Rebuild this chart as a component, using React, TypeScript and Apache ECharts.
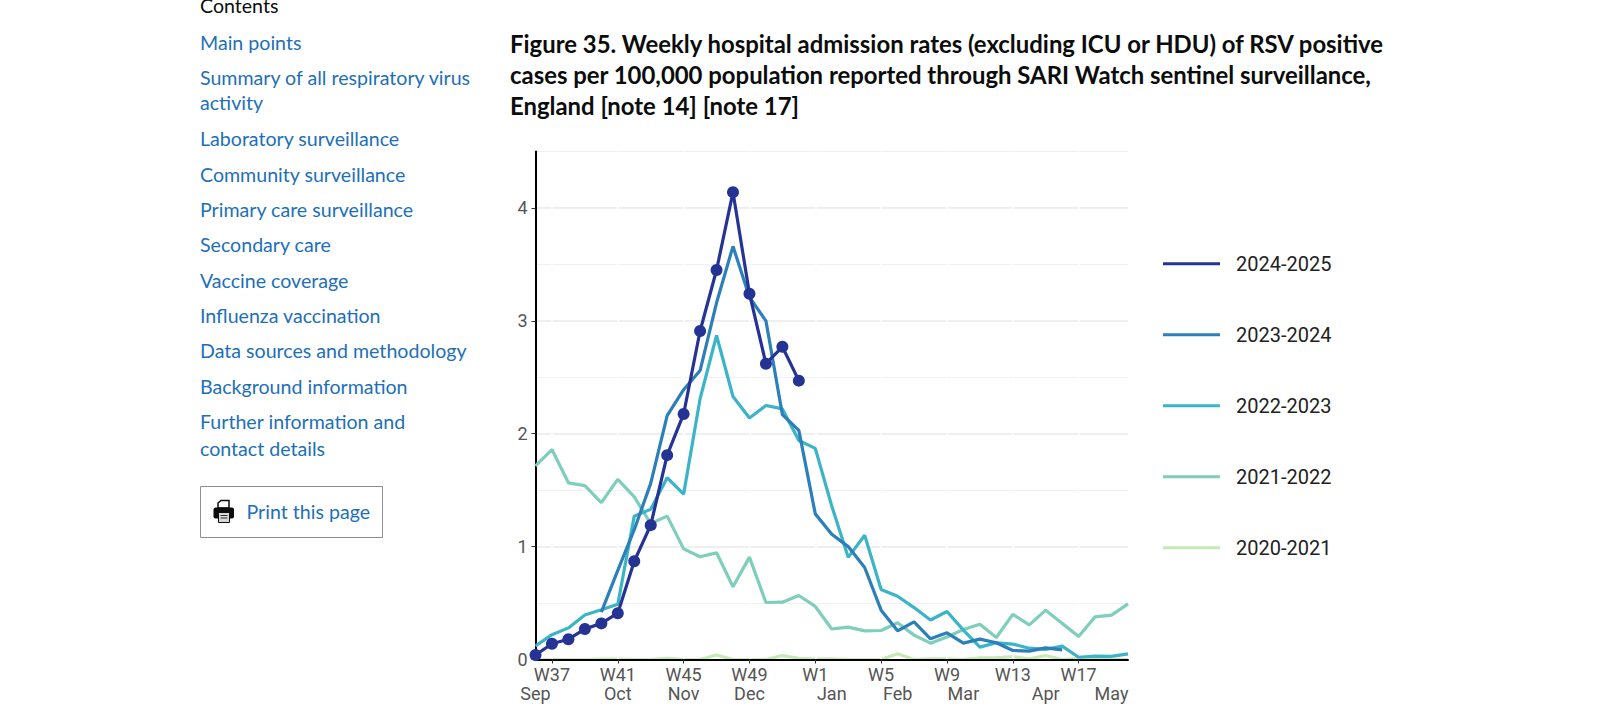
import React, { useEffect, useRef } from "react";
import * as echarts from "echarts";

const weeks = ["W36","W37","W38","W39","W40","W41","W42","W43","W44","W45","W46","W47","W48","W49","W50","W51","W52","W1","W2","W3","W4","W5","W6","W7","W8","W9","W10","W11","W12","W13","W14","W15","W16","W17","W18","W19","W20"];
const months = ["Sep","","","","","Oct","","","","Nov","","","","Dec","","","","","Jan","","","","Feb","","","","Mar","","","","","Apr","","","","May",""];
const v2425 = [0.04,0.14,0.18,0.27,0.32,0.41,0.87,1.19,1.81,2.175,2.91,3.45,4.14,3.24,2.62,2.77,2.47];
const v2324 = [null,null,null,null,0.42,0.79,1.15,1.56,2.16,2.39,2.56,3.16,3.66,3.21,3.0,2.17,2.03,1.29,1.11,1.0,0.815,0.437,0.254,0.334,0.183,0.236,0.145,0.18,0.148,0.08,0.074,0.103,0.086];
const v2223 = [0.12,0.22,0.28,0.395,0.44,0.49,1.27,1.33,1.61,1.465,2.31,2.87,2.33,2.14,2.25,2.22,1.94,1.87,1.36,0.905,1.10,0.62,0.56,0.46,0.35,0.425,0.26,0.11,0.148,0.136,0.10,0.09,0.118,0.02,0.03,0.027,0.05];
const v2122 = [1.715,1.86,1.565,1.54,1.39,1.595,1.44,1.205,1.27,0.98,0.91,0.945,0.645,0.907,0.505,0.508,0.567,0.47,0.27,0.287,0.254,0.257,0.325,0.216,0.145,0.2,0.266,0.313,0.195,0.40,0.307,0.437,0.32,0.204,0.378,0.393,0.493];
const v2021 = [0,0,0,0,0.003,0.003,0,0,0.01,0,0,0.04,0,0,0,0.035,0.01,0.003,0.005,0,0,0,0.05,0,0.005,0.005,0,0.015,0.015,0.025,0.005,0.035,0,0.01,0,0,0];
const yTicks = [0,1,2,3,4];
const seasons = ["2024-2025","2023-2024","2022-2023","2021-2022","2020-2021"];
const colors = ["#253494","#2c7fb8","#3cb4c8","#7fcdbb","#c7e9b4"];
const titleLines = [
  "Figure 35. Weekly hospital admission rates (excluding ICU or HDU) of RSV positive",
  "cases per 100,000 population reported through SARI Watch sentinel surveillance,",
  "England [note 14] [note 17]",
];
const navLabels = ["Main points","Summary of all respiratory virus","activity","Laboratory surveillance","Community surveillance","Primary care surveillance","Secondary care","Vaccine coverage","Influenza vaccination","Data sources and methodology","Background information","Further information and","contact details"];
const navY = [42,77,102.5,138.3,174,209.5,244.5,280,315.3,350.5,386.5,421,448];

const SANS = "Lato, sans-serif";

export default function App() {
  const ref = useRef<HTMLDivElement>(null);
  useEffect(() => {
    const chart = echarts.init(ref.current!, null, { renderer: "svg" });
    const seriesValues = [v2425, v2324, v2223, v2122, v2021];
    const showWeek = (i: number) => i % 4 === 1;
    chart.setOption({
      animation: false,
      backgroundColor: "#fff",
      title: {
        text: titleLines.join("\n"),
        left: 510,
        top: 27.5,
        padding: 0,
        textStyle: { fontFamily: SANS, fontWeight: 700, fontSize: 23.9, lineHeight: 31, color: "#0b0c0c" },
      },
      grid: { left: 535.5, right: 472, top: 151.5, bottom: 60.5, containLabel: false },
      legend: {
        data: seasons,
        orient: "vertical",
        left: 1163,
        top: 253.7,
        padding: 0,
        itemWidth: 57,
        itemHeight: 3,
        itemGap: 51,
        icon: "rect",
        selectedMode: false,
        textStyle: { fontFamily: "Roboto", fontSize: 20, lineHeight: 20, color: "#222", padding: [0, 0, 0, 11] },
      },
      xAxis: [
        {
          type: "category",
          data: weeks,
          boundaryGap: false,
          z: 1,
          axisLine: { lineStyle: { color: "#000", width: 2 } },
          axisTick: { show: true, length: 4, interval: (i: number) => showWeek(i), lineStyle: { color: "#333", width: 1 } },
          axisLabel: { interval: (i: number) => showWeek(i), fontFamily: "Roboto", fontSize: 18, color: "#555", margin: 6 },
          splitLine: { show: true, interval: (i: number) => showWeek(i), lineStyle: { color: "#fff", width: 1.5 } },
        },
        {
          type: "category",
          data: months,
          boundaryGap: false,
          position: "bottom",
          offset: 19,
          axisLine: { show: false },
          axisTick: { show: false },
          axisLabel: { interval: 0, fontFamily: "Roboto", fontSize: 18, color: "#555", margin: 6 },
        },
      ],
      yAxis: [
        {
          type: "value",
          min: 0,
          max: 4.5,
          interval: 1,
          z: 0,
          axisLine: { show: true, lineStyle: { color: "#000", width: 2 } },
          axisTick: { show: true, length: 4, customValues: yTicks, lineStyle: { color: "#333", width: 1 } },
          axisLabel: { customValues: yTicks, fontFamily: "Roboto", fontSize: 18, color: "#555", margin: 8 },
          splitLine: { show: true, lineStyle: { color: "#eeeeee", width: 2 } },
        },
        {
          type: "value",
          min: 0,
          max: 4.5,
          interval: 0.5,
          position: "left",
          z: 0,
          axisLine: { show: false },
          axisTick: { show: false },
          axisLabel: { show: false },
          splitLine: { show: true, lineStyle: { color: "#f0f0f0", width: 1 } },
        },
      ],
      series: [4, 3, 2, 1, 0].map((k) => ({
        type: "line",
        name: seasons[k],
        data: seriesValues[k],
        z: k === 4 ? 0.5 : 2,
        xAxisIndex: 0,
        yAxisIndex: 0,
        connectNulls: false,
        clip: false,
        smooth: false,
        showSymbol: k === 0,
        showAllSymbol: k === 0,
        symbol: k === 0 ? "circle" : "none",
        symbolSize: 12,
        itemStyle: { color: colors[k] },
        lineStyle: { color: colors[k], width: 3.2 },
      })),
      graphic: [
        { type: "text", x: 200, y: 5, style: { text: "Contents", font: `19.6px ${SANS}`, fill: "#0b0c0c", textVerticalAlign: "middle" } },
        ...navLabels.map((t, i) => ({
          type: "text",
          x: 200,
          y: navY[i],
          style: { text: t, font: `19.6px ${SANS}`, fill: "#1d70b8", textVerticalAlign: "middle" },
        })),
        { type: "rect", shape: { x: 200.5, y: 486.5, width: 182, height: 51 }, style: { fill: "#fff", stroke: "#8a8f92", lineWidth: 1 } },
        { type: "text", x: 246.5, y: 511, style: { text: "Print this page", font: `19.6px ${SANS}`, fill: "#1d70b8", textVerticalAlign: "middle" } },
        { type: "polygon", shape: { points: [[218, 508], [218, 503], [221, 500.5], [229, 500.5], [229, 508]] }, style: { fill: "#fff", stroke: "#0b0c0c", lineWidth: 1.5 } },
        { type: "rect", shape: { x: 213.5, y: 507.5, width: 20.5, height: 11, r: 2 }, style: { fill: "#0b0c0c" } },
        { type: "rect", shape: { x: 218.5, y: 512.5, width: 11, height: 10 }, style: { fill: "#d8d8d8", stroke: "#0b0c0c", lineWidth: 1 } },
        { type: "line", shape: { x1: 220.5, y1: 515.5, x2: 227.5, y2: 515.5 }, style: { stroke: "#333", lineWidth: 1 } },
        { type: "line", shape: { x1: 220.5, y1: 518, x2: 227.5, y2: 518 }, style: { stroke: "#333", lineWidth: 1 } },
      ],
    });
    return () => chart.dispose();
  }, []);
  return <div ref={ref} style={{ position: "fixed", left: 0, top: 0, width: 1600, height: 720 }} />;
}
